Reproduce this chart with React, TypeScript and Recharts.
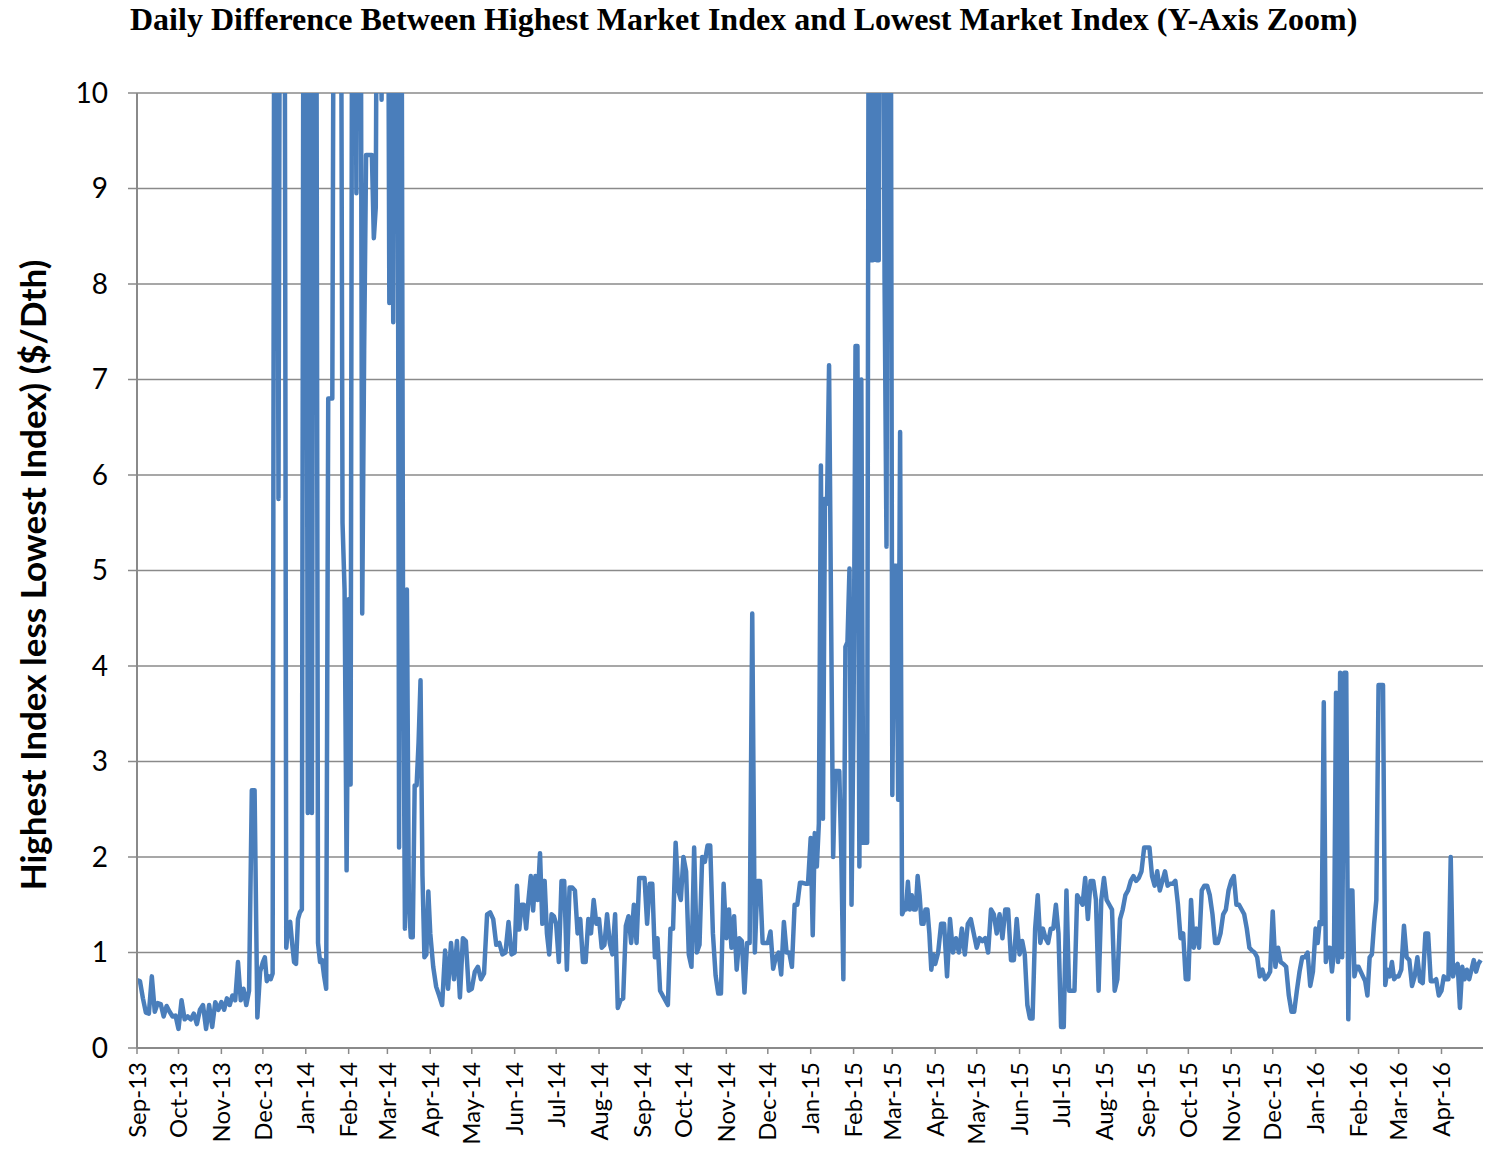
import React from "react";
import { LineChart, Line, XAxis, YAxis, CartesianGrid } from "recharts";

const TITLE =
  "Daily Difference Between Highest Market Index and Lowest Market Index (Y-Axis Zoom)";
const Y_LABEL = "Highest Index less Lowest Index) ($/Dth)";

const MONTH_LABELS = [
  "Sep-13", "Oct-13", "Nov-13", "Dec-13", "Jan-14", "Feb-14", "Mar-14", "Apr-14",
  "May-14", "Jun-14", "Jul-14", "Aug-14", "Sep-14", "Oct-14", "Nov-14", "Dec-14",
  "Jan-15", "Feb-15", "Mar-15", "Apr-15", "May-15", "Jun-15", "Jul-15", "Aug-15",
  "Sep-15", "Oct-15", "Nov-15", "Dec-15", "Jan-16", "Feb-16", "Mar-16", "Apr-16",
];

const Y_TICKS = [0, 1, 2, 3, 4, 5, 6, 7, 8, 9, 10];

// readings through each month, evenly spread over its days ($/Dth)
const sep13 = [0.71, 0.7, 0.52, 0.37, 0.36, 0.75, 0.38, 0.47, 0.46, 0.33, 0.44, 0.38, 0.33, 0.34];
const oct13 = [0.2, 0.5, 0.3, 0.33, 0.3, 0.36, 0.25, 0.4, 0.45, 0.2, 0.45, 0.22, 0.48, 0.4];
const nov13 = [0.48, 0.4, 0.52, 0.45, 0.55, 0.5, 0.9, 0.5, 0.62, 0.45, 0.6, 2.7, 2.7, 0.32, 0.8];
const dec13 = [0.9, 0.95, 0.7, 0.75, 0.72, 0.78, 14, 14, 5.75, 14, 14, 14, 1.05, 1.3, 1.32, 1.1, 0.9, 0.88, 1.35, 1.42, 1.45, 14];
const jan14 = [14, 2.46, 14, 2.46, 14, 14, 1.1, 0.9, 0.92, 0.75, 0.62, 6.8, 6.8, 6.8, 14, 14, 14, 14, 5.5, 4.8, 1.86];
const feb14 = [4.7, 2.76, 14, 14, 8.95, 14, 14, 4.55, 7.3, 9.35, 9.35, 9.35, 9.35, 8.48, 8.8, 14, 14, 9.93, 14, 14];
const mar14 = [14, 7.8, 14, 7.6, 14, 14, 2.1, 14, 4.8, 1.25, 4.8, 1.55, 1.16, 1.16, 2.75, 2.75, 3.2, 3.85, 1.8, 0.95, 0.98, 1.64];
const apr14 = [1.2, 0.85, 0.64, 0.55, 0.45, 1.02, 0.62, 1.1, 0.72, 1.12, 0.53, 1.15, 1.12, 0.6];
const may14 = [0.62, 0.8, 0.85, 0.72, 0.78, 1.4, 1.42, 1.35, 1.08, 1.1, 0.98, 1.0, 1.32, 0.98];
const jun14 = [1.0, 1.7, 1.24, 1.5, 1.5, 1.25, 1.55, 1.8, 1.44, 1.8, 1.55, 2.04, 1.3, 1.75, 1.2, 0.98, 1.4, 1.38];
const jul14 = [1.3, 0.9, 1.75, 1.75, 0.82, 1.68, 1.68, 1.65, 1.2, 1.35, 0.9, 0.9, 1.35, 1.2, 1.55, 1.3];
const aug14 = [1.35, 1.05, 1.08, 1.4, 1.1, 0.98, 1.4, 0.42, 0.5, 0.52, 1.28, 1.38, 1.1, 1.5, 1.1, 1.78];
const sep14 = [1.78, 1.78, 1.3, 1.72, 1.72, 0.95, 1.15, 0.6, 0.55, 0.5, 0.45, 1.25, 1.25, 2.15, 1.65, 1.55];
const oct14 = [2.0, 1.85, 0.98, 0.85, 2.1, 1.0, 1.08, 2.0, 1.95, 2.12, 2.12, 1.2, 0.76, 0.57, 0.57, 1.72];
const nov14 = [1.15, 1.45, 1.05, 1.38, 0.82, 1.15, 1.12, 0.58, 1.1, 1.1, 4.55, 1.0, 1.75, 1.75, 1.1, 1.1];
const dec14 = [1.1, 1.22, 0.83, 0.95, 1.0, 0.77, 1.32, 1.0, 1.0, 0.85, 1.5, 1.5, 1.73, 1.73, 1.72, 1.72];
const jan15 = [2.2, 1.18, 2.25, 1.9, 2.35, 6.1, 2.4, 5.75, 5.7, 7.15, 4.5, 2.0, 2.9, 2.9, 2.9, 2.0, 0.72, 4.2, 4.25, 5.02, 1.5];
const feb15 = [3.5, 7.35, 7.35, 1.9, 7.0, 2.15, 2.15, 2.15, 14, 8.25, 8.25, 14, 8.25, 8.25, 14, 14, 8.05, 5.25, 14, 14];
const mar15 = [2.65, 5.05, 5.05, 2.6, 6.45, 1.4, 1.45, 1.45, 1.74, 1.45, 1.6, 1.45, 1.45, 1.8, 1.6, 1.3, 1.3, 1.45, 1.45, 1.2, 0.82, 0.98];
const apr15 = [0.88, 1.0, 1.3, 1.3, 0.75, 1.35, 1.0, 1.15, 1.0, 1.25, 0.98, 1.3, 1.35, 1.2];
const may15 = [1.05, 1.15, 1.12, 1.15, 1.0, 1.45, 1.4, 1.2, 1.4, 1.15, 1.45, 1.45, 0.92, 0.92, 1.35];
const jun15 = [0.98, 1.12, 0.98, 0.45, 0.31, 0.31, 1.25, 1.6, 1.1, 1.25, 1.15, 1.1, 1.25, 1.25, 1.5, 1.2];
const jul15 = [0.22, 0.22, 1.65, 0.6, 0.6, 0.6, 1.6, 1.55, 1.5, 1.78, 1.35, 1.75, 1.75, 1.55, 0.6, 1.55];
const aug15 = [1.78, 1.55, 1.5, 1.45, 0.6, 0.72, 1.35, 1.45, 1.6, 1.65, 1.75, 1.8, 1.75, 1.78, 1.85, 2.1];
const sep15 = [2.1, 2.1, 1.8, 1.7, 1.85, 1.65, 1.75, 1.85, 1.7, 1.72, 1.72, 1.75, 1.5, 1.15, 1.2, 0.72];
const oct15 = [0.72, 1.55, 1.05, 1.25, 1.05, 1.65, 1.7, 1.7, 1.6, 1.4, 1.1, 1.1, 1.2, 1.4, 1.45, 1.65];
const nov15 = [1.75, 1.8, 1.5, 1.5, 1.45, 1.4, 1.25, 1.05, 1.02, 1.0, 0.95, 0.75, 0.82, 0.72, 0.75, 0.8];
const dec15 = [1.43, 0.85, 1.05, 0.9, 0.88, 0.85, 0.55, 0.38, 0.38, 0.6, 0.8, 0.95, 0.95, 1.0, 0.65, 0.8];
const jan16 = [1.25, 1.1, 1.32, 1.3, 3.62, 0.9, 1.05, 1.05, 0.8, 1.0, 3.72, 0.9, 3.93, 0.95, 3.93, 3.93, 0.3, 1.65, 1.65, 0.75, 0.85];
const feb16 = [0.85, 0.8, 0.75, 0.7, 0.55, 0.95, 0.98, 1.3, 1.55, 3.8, 3.8, 3.8, 0.66, 0.82, 0.75, 0.9, 0.72, 0.75];
const mar16 = [0.75, 0.82, 1.28, 0.95, 0.92, 0.65, 0.75, 0.95, 0.7, 0.68, 1.2, 1.2, 0.7, 0.7, 0.72, 0.55];
const apr16 = [0.6, 0.75, 0.72, 0.72, 2.0, 0.75, 0.85, 0.88, 0.42, 0.85, 0.72, 0.82, 0.72, 0.82, 0.92, 0.8, 0.88, 0.92];

const MONTH_VALUES = [
  sep13, oct13, nov13, dec13, jan14, feb14, mar14, apr14, may14, jun14, jul14, aug14,
  sep14, oct14, nov14, dec14, jan15, feb15, mar15, apr15, may15, jun15, jul15, aug15,
  sep15, oct15, nov15, dec15, jan16, feb16, mar16, apr16,
];

const DAY = 86400000;
const START = Date.UTC(2013, 8, 1);
const dayOf = (m: number) => (Date.UTC(2013, 8 + m, 1) - START) / DAY;

const monthTicks = MONTH_LABELS.map((_, m) => dayOf(m));
const lastDay = dayOf(MONTH_LABELS.length);

const data: { day: number; value: number }[] = [];
MONTH_VALUES.forEach((vals, m) => {
  const s = dayOf(m);
  const e = dayOf(m + 1);
  vals.forEach((v, i) => data.push({ day: s + (i * (e - s)) / vals.length, value: v }));
});

const GRID = "#8a8a8a";
const BLUE = "#4a7ebb";
const SANS = "Lato, 'Open Sans', sans-serif";

const MonthTick = (props: any) => {
  const { x, y, payload } = props;
  const idx = monthTicks.indexOf(payload.value);
  return (
    <text
      x={x}
      y={y + 6}
      transform={`rotate(-90 ${x} ${y + 6})`}
      textAnchor="end"
      dy="0.36em"
      fontSize={24}
      fontFamily={SANS}
      fill="#000"
    >
      {idx >= 0 ? MONTH_LABELS[idx] : ""}
    </text>
  );
};

export default function App() {
  return (
    <div
      style={{
        position: "absolute",
        left: 0,
        top: 0,
        width: 1485,
        height: 1149,
        background: "#fff",
        overflow: "hidden",
      }}
    >
      <div
        style={{
          position: "absolute",
          left: 130,
          top: 1,
          fontFamily: "'Liberation Serif', 'Times New Roman', serif",
          fontWeight: "bold",
          fontSize: 32,
          whiteSpace: "nowrap",
        }}
      >
        {TITLE}
      </div>
      <div
        style={{
          position: "absolute",
          left: 32,
          top: 575,
          transform: "translate(-50%, -50%) rotate(-90deg)",
          fontFamily: SANS,
          fontWeight: "bold",
          fontSize: 35,
          whiteSpace: "nowrap",
        }}
      >
        {Y_LABEL}
      </div>
      <LineChart
        width={1485}
        height={1149}
        data={data}
        margin={{ top: 93, right: 2, bottom: 0, left: 37 }}
        style={{ position: "absolute", left: 0, top: 0 }}
      >
        <CartesianGrid vertical={false} stroke={GRID} strokeWidth={1.5} />
        <XAxis
          dataKey="day"
          type="number"
          domain={[0, lastDay]}
          ticks={monthTicks}
          interval={0}
          height={101}
          axisLine={{ stroke: GRID, strokeWidth: 2 }}
          tickLine={{ stroke: GRID, strokeWidth: 1.5 }}
          tickSize={6}
          tick={<MonthTick />}
        />
        <YAxis
          type="number"
          domain={[0, 10]}
          ticks={Y_TICKS}
          allowDataOverflow
          width={100}
          axisLine={{ stroke: GRID, strokeWidth: 2 }}
          tickLine={{ stroke: GRID, strokeWidth: 1.5 }}
          tickSize={9}
          tickMargin={20}
          tick={{ fontSize: 28, fontFamily: SANS, fill: "#000" }}
        />
        <Line
          dataKey="value"
          type="linear"
          stroke={BLUE}
          strokeWidth={4.5}
          dot={false}
          isAnimationActive={false}
          strokeLinejoin="round"
        />
      </LineChart>
    </div>
  );
}
